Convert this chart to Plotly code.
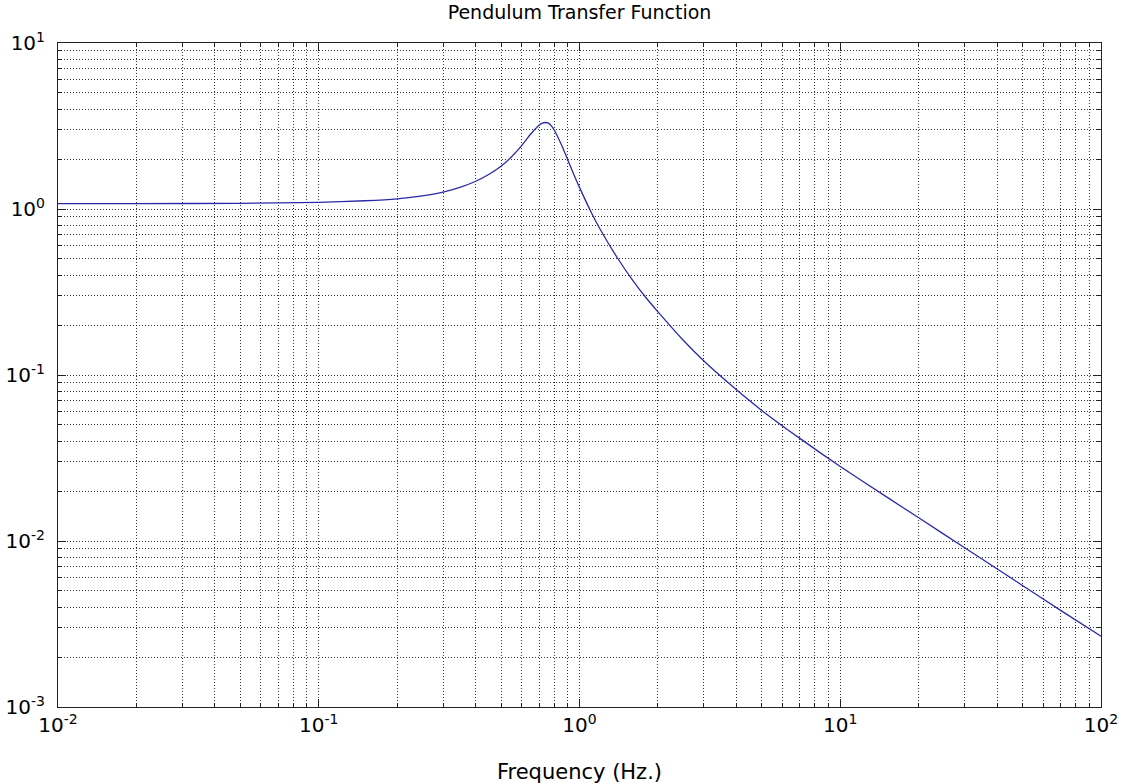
import plotly.graph_objects as go

# ---- data ----
freq_hz = [0.01, 0.02, 0.05, 0.1, 0.15, 0.2, 0.25, 0.3, 0.35, 0.4, 0.45, 0.5, 0.55,
           0.6, 0.65, 0.7, 0.72, 0.74, 0.76, 0.78, 0.8, 0.85, 0.9, 0.95, 1.0, 1.1,
           1.2, 1.4, 1.6, 1.8, 2, 2.5, 3, 4, 5, 7, 10, 15, 20, 30, 50, 70, 100]
magnitude = [1.077, 1.078, 1.082, 1.096, 1.121, 1.152, 1.20, 1.265, 1.355, 1.47, 1.62,
             1.81, 2.07, 2.41, 2.83, 3.20, 3.29, 3.32, 3.29, 3.17, 2.99, 2.46, 1.99,
             1.62, 1.35, 0.98, 0.755, 0.505, 0.372, 0.292, 0.240, 0.162, 0.1215,
             0.0815, 0.0612, 0.0415, 0.0281, 0.0185, 0.0138, 0.0091, 0.0054,
             0.00382, 0.00267]

x_major = [0.01, 0.1, 1, 10, 100]
x_major_text = ["10<sup>-2</sup>", "10<sup>-1</sup>", "10<sup>0</sup>", "10<sup>1</sup>", "10<sup>2</sup>"]
y_major = [0.001, 0.01, 0.1, 1, 10]
y_major_text = ["10<sup>-3</sup>", "10<sup>-2</sup>", "10<sup>-1</sup>", "10<sup>0</sup>", "10<sup>1</sup>"]
x_minor = [k * d for d in [0.01, 0.1, 1, 10] for k in range(2, 10)]
y_minor = [k * d for d in [0.001, 0.01, 0.1, 1] for k in range(2, 10)]

title_text = "Pendulum Transfer Function"
xlabel_text = "Frequency (Hz.)"

FONT = "DejaVu Sans"
GRID = "rgba(0,0,0,0.8)"
DOTS = "1px,2px"

fig = go.Figure()
fig.add_trace(go.Scatter(
    x=freq_hz, y=magnitude, mode="lines",
    line=dict(color="#2a2aa8", width=1.3, shape="spline", smoothing=0.6),
    showlegend=False, hoverinfo="skip",
))

axis_common = dict(
    type="log",
    automargin=False,
    showline=True, linecolor="#222", linewidth=1, mirror="allticks",
    ticks="inside", ticklen=8, tickcolor="#222", tickwidth=1,
    showgrid=True, gridcolor=GRID, gridwidth=1, griddash=DOTS,
    zeroline=False,
    tickfont=dict(family=FONT, size=20, color="black"),
)

fig.update_xaxes(
    **axis_common,
    range=[-2, 2],
    tickmode="array", tickvals=x_major, ticktext=x_major_text,
    minor=dict(tickmode="array", tickvals=x_minor, ticks="inside", ticklen=4,
               tickcolor="#222", showgrid=True, gridcolor=GRID, gridwidth=1,
               griddash=DOTS),
    title=dict(text=xlabel_text, font=dict(family=FONT, size=21, color="black"),
               standoff=31),
)
fig.update_yaxes(
    **axis_common,
    range=[-3, 1],
    tickmode="array", tickvals=y_major, ticktext=y_major_text,
    ticklabelstandoff=8,
    minor=dict(tickmode="array", tickvals=y_minor, ticks="inside", ticklen=4,
               tickcolor="#222", showgrid=True, gridcolor=GRID, gridwidth=1,
               griddash=DOTS),
)

fig.update_layout(
    width=1132, height=784,
    margin=dict(l=58, r=31, t=43, b=77, pad=0, autoexpand=False),
    paper_bgcolor="white", plot_bgcolor="white",
    title=dict(text=title_text, x=0.5, xanchor="center", xref="paper",
               y=1 - 12 / 784, yanchor="middle", yref="container",
               font=dict(family=FONT, size=19, color="black"), automargin=False),
)

# remove the browser's default 8px body margin so the figure fills the window exactly
fig.write_html("out.html", config={"displayModeBar": False},
               post_script="document.body.style.margin='0px';")
